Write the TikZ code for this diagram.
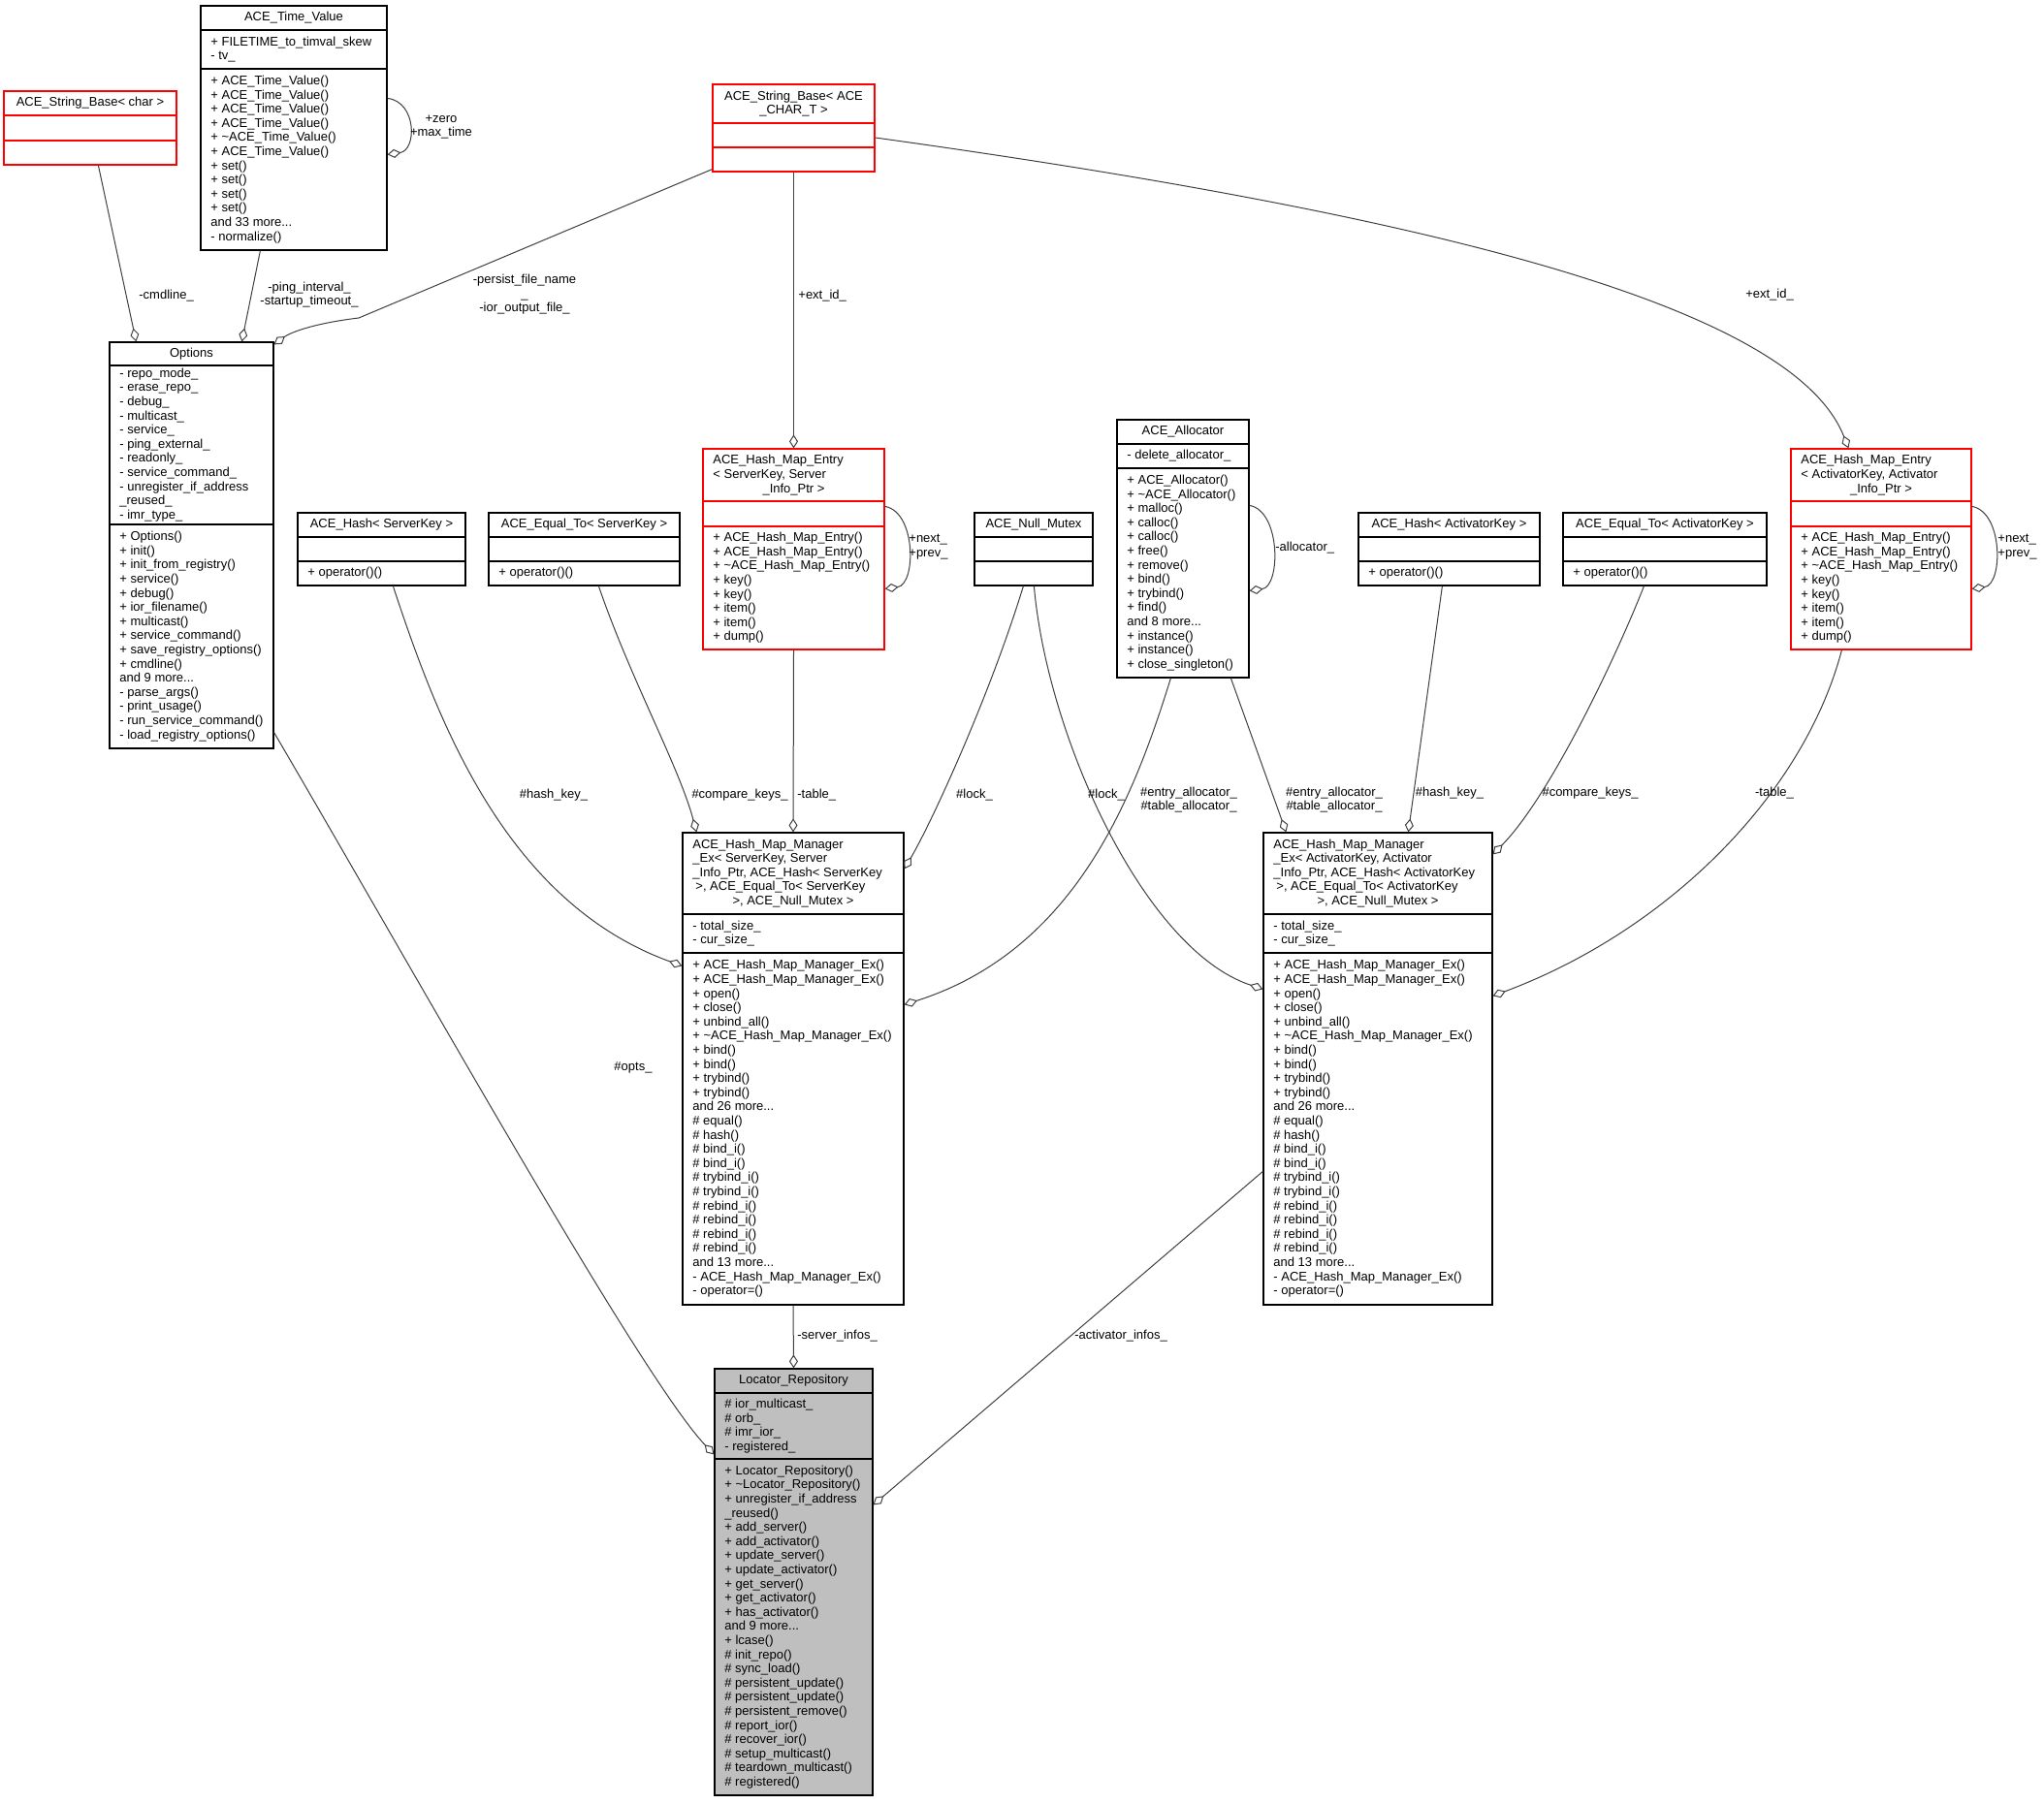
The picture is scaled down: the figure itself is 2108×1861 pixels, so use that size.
\documentclass[tikz,border=0pt]{standalone}
\usepackage{fontspec}
\setmainfont{Liberation Sans}
\usetikzlibrary{arrows.meta,calc,fit}
\definecolor{edgec}{HTML}{404040}
\definecolor{redc}{HTML}{FF0000}
\definecolor{grayfill}{HTML}{BFBFBF}
\newcommand\tild{\textasciitilde}
\newcommand\umlbox[9][white]{%
  \node[fit={(#3,#4) (#5,#6)}, inner sep=0pt, draw=#9, fill=#1, boxline] (#2) {};
  \draw[#9, boxline] (#3,#7) -- (#5,#7) (#3,#8) -- (#5,#8);
}
\tikzset{
  every node/.style={font=\fontsize{6.5pt}{7.3pt}\selectfont, inner sep=0pt},
  txt/.style={anchor=west, align=left},
  ttl/.style={anchor=center, align=center},
  lbl/.style={align=center},
  conn/.style={draw=edgec, line width=0.5pt},
  agg/.style={conn, -{Diamond[open, length=7pt, width=4.5pt]}},
  boxline/.style={line width=0.6pt},
}
\begin{document}
\begin{tikzpicture}[x=0.5pt,y=-0.5pt]
\fill[white] (0,0) rectangle (2108,1861);
\useasboundingbox (0,0) rectangle (2108,1861);

% ---------- boxes ----------
\umlbox{strchar}{4}{94}{182}{170}{119}{145}{redc}
\umlbox{timeval}{207}{6}{399}{258}{31}{71}{black}
\umlbox{strace}{735}{87}{902}{177}{127}{152}{redc}
\umlbox{opts}{113}{353}{282}{772}{377}{541}{black}
\umlbox{hashsk}{307}{529}{480}{604}{554}{579}{black}
\umlbox{eqsk}{504}{529}{701}{604}{554}{579}{black}
\umlbox{hmes}{725}{463}{912}{670}{517}{543}{redc}
\umlbox{mutex}{1005}{529}{1127}{604}{554}{579}{black}
\umlbox{alloc}{1152}{433}{1288}{699}{458}{483}{black}
\umlbox{hashak}{1401}{529}{1588}{604}{554}{579}{black}
\umlbox{eqak}{1612}{529}{1822}{604}{554}{579}{black}
\umlbox{hmea}{1847}{463}{2033}{670}{517}{543}{redc}
\umlbox{mgrs}{704}{859}{932}{1346}{943}{983}{black}
\umlbox{mgra}{1303}{859}{1539}{1346}{943}{983}{black}
\umlbox[grayfill]{locrep}{737}{1412}{900}{1852}{1437}{1505}{black}

% ---------- box texts ----------
\node[ttl] (strchar-t) at (93,106.5) {ACE\_String\_Base< char >};

\node[ttl] (timeval-t) at (303,18.5) {ACE\_Time\_Value};
\node[txt] (timeval-a) at (217,51) {+ FILETIME\_to\_timval\_skew\\- tv\_};
\node[txt] (timeval-m) at (217,164.5) {+ ACE\_Time\_Value()\\+ ACE\_Time\_Value()\\+ ACE\_Time\_Value()\\+ ACE\_Time\_Value()\\+ \tild ACE\_Time\_Value()\\+ ACE\_Time\_Value()\\+ set()\\+ set()\\+ set()\\+ set()\\and 33 more...\\- normalize()};

\node[ttl] (strace-t) at (818.5,107) {ACE\_String\_Base< ACE\\\_CHAR\_T >};

\node[ttl] (opts-t) at (197.5,365) {Options};
\node[txt] (opts-a) at (123,459) {- repo\_mode\_\\- erase\_repo\_\\- debug\_\\- multicast\_\\- service\_\\- ping\_external\_\\- readonly\_\\- service\_command\_\\- unregister\_if\_address\\\_reused\_\\- imr\_type\_};
\node[txt] (opts-m) at (123,656.5) {+ Options()\\+ init()\\+ init\_from\_registry()\\+ service()\\+ debug()\\+ ior\_filename()\\+ multicast()\\+ service\_command()\\+ save\_registry\_options()\\+ cmdline()\\and 9 more...\\- parse\_args()\\- print\_usage()\\- run\_service\_command()\\- load\_registry\_options()};

\node[ttl] (hashsk-t) at (393.5,541.5) {ACE\_Hash< ServerKey >};
\node[txt] (hashsk-m) at (317,591.5) {+ operator()()};
\node[ttl] (eqsk-t) at (602.5,541.5) {ACE\_Equal\_To< ServerKey >};
\node[txt] (eqsk-m) at (514,591.5) {+ operator()()};

\node[txt] (hmes-t1) at (735,482.7) {ACE\_Hash\_Map\_Entry\\< ServerKey, Server};
\node[ttl] (hmes-t2) at (818.5,504.6) {\_Info\_Ptr >};
\node[txt] (hmes-m) at (735,606.5) {+ ACE\_Hash\_Map\_Entry()\\+ ACE\_Hash\_Map\_Entry()\\+ \tild ACE\_Hash\_Map\_Entry()\\+ key()\\+ key()\\+ item()\\+ item()\\+ dump()};

\node[ttl] (mutex-t) at (1066,541.5) {ACE\_Null\_Mutex};

\node[ttl] (alloc-t) at (1220,445.5) {ACE\_Allocator};
\node[txt] (alloc-a) at (1162,470.5) {- delete\_allocator\_};
\node[txt] (alloc-m) at (1162,591) {+ ACE\_Allocator()\\+ \tild ACE\_Allocator()\\+ malloc()\\+ calloc()\\+ calloc()\\+ free()\\+ remove()\\+ bind()\\+ trybind()\\+ find()\\and 8 more...\\+ instance()\\+ instance()\\+ close\_singleton()};

\node[ttl] (hashak-t) at (1494.5,541.5) {ACE\_Hash< ActivatorKey >};
\node[txt] (hashak-m) at (1411,591.5) {+ operator()()};
\node[ttl] (eqak-t) at (1717,541.5) {ACE\_Equal\_To< ActivatorKey >};
\node[txt] (eqak-m) at (1622,591.5) {+ operator()()};

\node[txt] (hmea-t1) at (1857,482.7) {ACE\_Hash\_Map\_Entry\\< ActivatorKey, Activator};
\node[ttl] (hmea-t2) at (1940,504.6) {\_Info\_Ptr >};
\node[txt] (hmea-m) at (1857,606.5) {+ ACE\_Hash\_Map\_Entry()\\+ ACE\_Hash\_Map\_Entry()\\+ \tild ACE\_Hash\_Map\_Entry()\\+ key()\\+ key()\\+ item()\\+ item()\\+ dump()};

\node[txt] (mgrs-t1) at (714,893.7) {ACE\_Hash\_Map\_Manager\\\_Ex< ServerKey, Server\\\_Info\_Ptr, ACE\_Hash< ServerKey\\\hspace{1.5pt}>, ACE\_Equal\_To< ServerKey};
\node[ttl] (mgrs-t2) at (818,930.2) {>, ACE\_Null\_Mutex >};
\node[txt] (mgrs-a) at (714,963) {- total\_size\_\\- cur\_size\_};
\node[txt] (mgrs-m) at (714,1164.5) {+ ACE\_Hash\_Map\_Manager\_Ex()\\+ ACE\_Hash\_Map\_Manager\_Ex()\\+ open()\\+ close()\\+ unbind\_all()\\+ \tild ACE\_Hash\_Map\_Manager\_Ex()\\+ bind()\\+ bind()\\+ trybind()\\+ trybind()\\and 26 more...\\\# equal()\\\# hash()\\\# bind\_i()\\\# bind\_i()\\\# trybind\_i()\\\# trybind\_i()\\\# rebind\_i()\\\# rebind\_i()\\\# rebind\_i()\\\# rebind\_i()\\and 13 more...\\- ACE\_Hash\_Map\_Manager\_Ex()\\- operator=()};

\node[txt] (mgra-t1) at (1313,893.7) {ACE\_Hash\_Map\_Manager\\\_Ex< ActivatorKey, Activator\\\_Info\_Ptr, ACE\_Hash< ActivatorKey\\\hspace{1.5pt}>, ACE\_Equal\_To< ActivatorKey};
\node[ttl] (mgra-t2) at (1421,930.2) {>, ACE\_Null\_Mutex >};
\node[txt] (mgra-a) at (1313,963) {- total\_size\_\\- cur\_size\_};
\node[txt] (mgra-m) at (1313,1164.5) {+ ACE\_Hash\_Map\_Manager\_Ex()\\+ ACE\_Hash\_Map\_Manager\_Ex()\\+ open()\\+ close()\\+ unbind\_all()\\+ \tild ACE\_Hash\_Map\_Manager\_Ex()\\+ bind()\\+ bind()\\+ trybind()\\+ trybind()\\and 26 more...\\\# equal()\\\# hash()\\\# bind\_i()\\\# bind\_i()\\\# trybind\_i()\\\# trybind\_i()\\\# rebind\_i()\\\# rebind\_i()\\\# rebind\_i()\\\# rebind\_i()\\and 13 more...\\- ACE\_Hash\_Map\_Manager\_Ex()\\- operator=()};

\node[ttl] (locrep-t) at (818.5,1424.5) {Locator\_Repository};
\node[txt] (locrep-a) at (747,1471) {\# ior\_multicast\_\\\# orb\_\\\# imr\_ior\_\\- registered\_};
\node[txt] (locrep-m) at (747,1678.5) {+ Locator\_Repository()\\+ \tild Locator\_Repository()\\+ unregister\_if\_address\\\_reused()\\+ add\_server()\\+ add\_activator()\\+ update\_server()\\+ update\_activator()\\+ get\_server()\\+ get\_activator()\\+ has\_activator()\\and 9 more...\\+ lcase()\\\# init\_repo()\\\# sync\_load()\\\# persistent\_update()\\\# persistent\_update()\\\# persistent\_remove()\\\# report\_ior()\\\# recover\_ior()\\\# setup\_multicast()\\\# teardown\_multicast()\\\# registered()};

% ---------- connectors ----------
\draw[agg] ($(strchar.south west)+(98,0)$) -- ($(opts.north west)+(28,0)$);
\draw[agg] ($(timeval.south west)+(62,0)$) -- ($(opts.north west)+(137,0)$);
\draw[agg] ($(strace.south west)+(0,-3)$) -- (370,328) .. controls (320,334) and (298,344) .. ($(opts.north east)+(0,3)$);
\draw[agg] (strace.south) -- (hmes.north);
\draw[agg] ($(strace.east)+(0,10)$) .. controls (1500,225) and (1850,320) .. ($(hmea.north west)+(60,0)$);
\draw[agg] ($(timeval.north east)+(0,96)$) .. controls (430,105) and (430,155) .. ($(timeval.north east)+(0,154)$);
\draw[agg] ($(hmes.north east)+(0,60)$) .. controls (945,528) and (945,603) .. ($(hmes.north east)+(0,145)$);
\draw[agg] ($(alloc.north east)+(0,89)$) .. controls (1321,527) and (1321,605) .. ($(alloc.north east)+(0,177)$);
\draw[agg] ($(hmea.north east)+(0,60)$) .. controls (2066,528) and (2066,603) .. ($(hmea.north east)+(0,145)$);
\draw[agg] ($(hashsk.south west)+(99,0)$) .. controls (450,740) and (520,930) .. ($(mgrs.north west)+(0,138)$);
\draw[agg] ($(eqsk.south west)+(114,0)$) .. controls (650,700) and (700,790) .. ($(mgrs.north west)+(15,0)$);
\draw[agg] (hmes.south) -- (mgrs.north);
\draw[agg] ($(mutex.south west)+(51,0)$) .. controls (1020,720) and (960,850) .. ($(mgrs.north east)+(0,38)$);
\draw[agg] ($(mutex.south west)+(62,0)$) .. controls (1080,760) and (1180,980) .. ($(mgra.north west)+(0,162)$);
\draw[agg] ($(alloc.south west)+(56,0)$) .. controls (1170,820) and (1110,980) .. ($(mgrs.north east)+(0,178)$);
\draw[agg] ($(alloc.south west)+(118,0)$) -- ($(mgra.north west)+(24,0)$);
\draw[agg] ($(hashak.south west)+(87,0)$) -- ($(mgra.north west)+(150,0)$);
\draw[agg] ($(eqak.south west)+(84,0)$) .. controls (1670,670) and (1600,820) .. ($(mgra.north east)+(0,23)$);
\draw[agg] ($(hmea.south west)+(53,0)$) .. controls (1860,820) and (1720,960) .. ($(mgra.north east)+(0,169)$);
\draw[agg] ($(opts.south east)+(0,-17)$) .. controls (420,990) and (660,1420) .. ($(locrep.north west)+(0,89)$);
\draw[agg] (mgrs.south) -- (locrep.north);
\draw[agg] ($(mgra.north west)+(0,350)$) -- ($(locrep.north east)+(0,141)$);

% ---------- connector labels ----------
\node[lbl, anchor=west] (l-cmd) at (143,305) {-cmdline\_};
\node[lbl] (l-ping) at (319,304) {-ping\_interval\_\\-startup\_timeout\_};
\node[lbl] (l-persist) at (541,304) {-persist\_file\_name\\\_\\-ior\_output\_file\_};
\node[lbl, anchor=west] (l-ext1) at (823,305) {+ext\_id\_};
\node[lbl] (l-ext2) at (1825,304) {+ext\_id\_};
\node[lbl] (l-zero) at (455,131) {+zero\\+max\_time};
\node[lbl, anchor=west, align=left] (l-np1) at (937,564) {+next\_\\+prev\_};
\node[lbl, anchor=west] (l-alloc) at (1315,565) {-allocator\_};
\node[lbl, anchor=west, align=left] (l-np2) at (2060,564) {+next\_\\+prev\_};
\node[lbl] (l-hk1) at (571,820) {\#hash\_key\_};
\node[lbl] (l-ck1) at (763,820) {\#compare\_keys\_};
\node[lbl, anchor=west] (l-tb1) at (822,820) {-table\_};
\node[lbl] (l-lk1) at (1005,820) {\#lock\_};
\node[lbl] (l-lk2) at (1141,820) {\#lock\_};
\node[lbl] (l-ea1) at (1226,825) {\#entry\_allocator\_\\\#table\_allocator\_};
\node[lbl] (l-ea2) at (1376,825) {\#entry\_allocator\_\\\#table\_allocator\_};
\node[lbl] (l-hk2) at (1495,818) {\#hash\_key\_};
\node[lbl] (l-ck2) at (1640,818) {\#compare\_keys\_};
\node[lbl] (l-tb2) at (1830,818) {-table\_};
\node[lbl] (l-opts) at (653,1101) {\#opts\_};
\node[lbl, anchor=west] (l-si) at (822,1378) {-server\_infos\_};
\node[lbl, anchor=west] (l-ai) at (1108,1378) {-activator\_infos\_};
\end{tikzpicture}
\end{document}
